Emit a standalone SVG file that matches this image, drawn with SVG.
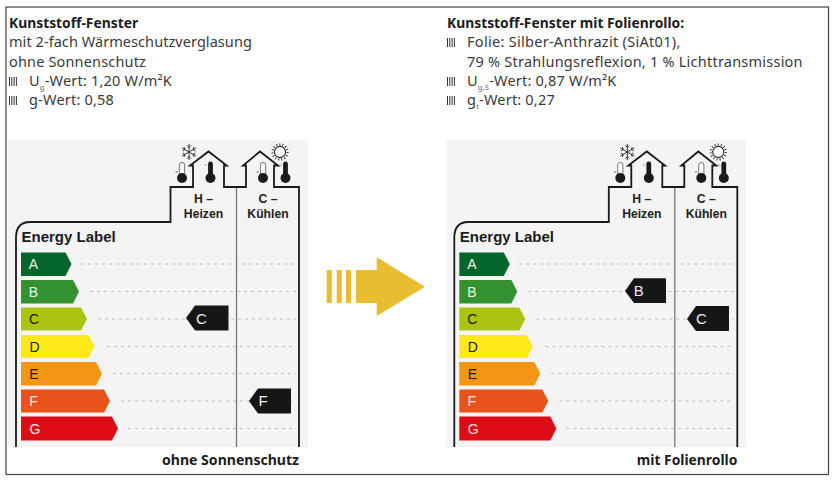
<svg xmlns="http://www.w3.org/2000/svg" width="834" height="482" viewBox="0 0 834 482">
<style>
.t{font-family:"Noto Sans","Open Sans",sans-serif;font-size:14.5px;fill:#3a3a3a;letter-spacing:.2px}
.h{font-family:"Noto Sans","Open Sans",sans-serif;font-size:13.85px;font-weight:700;fill:#1c1c1c}
.sub{font-size:7.5px;fill:#666}
.a{font-family:"Liberation Sans",Arial,sans-serif}
.el{font-size:15px;font-weight:700;fill:#1a1a1a}
.hd{font-size:12.2px;font-weight:700;fill:#222;text-anchor:middle}
.l{font-size:14px;text-anchor:middle}
.m{font-size:15px;text-anchor:middle;fill:#eee}
.w{fill:#f4f4f4}.k{fill:#161616}
.out{fill:none;stroke:#1a1a1a;stroke-width:1.8}
.div{fill:none;stroke:#777;stroke-width:1.3}
.dot{fill:none;stroke:#bdbdbd;stroke-width:1;stroke-dasharray:3 4}
.bul{fill:none;stroke:#333;stroke-width:1}
</style>
<defs>
<g id="bul"><path class="bul" d="M.5 0V9M2.8 0V9M5.1 0V9M7.4 0V9"/></g>
<g id="thS"><path d="M-2.4 -14a2.4 2.4 0 0 1 4.8 0V0H-2.4Z" fill="#1a1a1a"/><circle r="5" fill="#1a1a1a"/><path d="M-6 -13h2.5" stroke="#777" stroke-width=".7"/></g>
<g id="thH"><path d="M-2.6 -13a2.6 2.6 0 0 1 5.2 0V0H-2.6Z" fill="#fff" stroke="#666" stroke-width=".9"/><circle r="5" fill="#1a1a1a"/><path d="M-6.5 -6h2.5" stroke="#555" stroke-width=".8"/></g>
<g id="snow" fill="none" stroke="#333" stroke-width="1"><path d="M0 -8V8M-7 -4L7 4M-7 4L7 -4M-2 -6.5L0 -4.5L2 -6.5M-2 6.5L0 4.5L2 6.5M-6.5 -1L-4 -2.5L-5 -5M6.5 1L4 2.5L5 5M-6.5 1L-4 2.5L-5 5M6.5 -1L4 -2.5L5 -5"/></g>
<g id="sun" fill="none" stroke="#222"><circle r="5.6" fill="#fff" stroke-width="1.1"/><circle r="7.6" stroke-width="2" stroke-dasharray="1 2.18"/></g>
</defs>

<rect id="frame" x="6" y="7" width="822.5" height="467.5" fill="#fff" stroke="#444" stroke-width="1.2"/>

<g id="text-left">
<text class="h" x="9" y="27.5">Kunststoff-Fenster</text>
<text class="t" x="9" y="47" style="letter-spacing:.06px">mit 2-fach Wärmeschutzverglasung</text>
<text class="t" x="9" y="66.5" style="letter-spacing:.16px">ohne Sonnenschutz</text>
<use href="#bul" x="9" y="77"/>
<text class="t" x="29" y="86">U<tspan class="sub" dy="3.5">g</tspan><tspan dy="-3.5">-Wert: 1,20 W/m²K</tspan></text>
<use href="#bul" x="9" y="96"/>
<text class="t" x="29" y="105">g-Wert: 0,58</text>
</g>

<g id="text-right">
<text class="h" x="447" y="27.5">Kunststoff-Fenster mit Folienrollo:</text>
<use href="#bul" x="447" y="38"/>
<text class="t" x="467" y="47" style="letter-spacing:.29px">Folie: Silber-Anthrazit (SiAt01),</text>
<text class="t" x="467" y="66.5" style="letter-spacing:.23px">79 % Strahlungsreflexion, 1 % Lichttransmission</text>
<use href="#bul" x="447" y="77"/>
<text class="t" x="467" y="86">U<tspan class="sub" dy="3.5">g,S</tspan><tspan dy="-3.5">-Wert: 0,87 W/m²K</tspan></text>
<use href="#bul" x="447" y="96"/>
<text class="t" x="467" y="105">g<tspan class="sub" dy="3.5">t</tspan><tspan dy="-3.5">-Wert: 0,27</tspan></text>
</g>

<g id="chart-left">
<rect class="w" x="8" y="140" width="300" height="307"/>
<path class="dot" d="M81 264H296M90 291.5H296M98 319H296M107 346.5H296M113 373.5H296M121 401H296M128 428.5H296"/>
<use href="#snow" x="189" y="152"/><use href="#sun" x="280" y="152"/>
<use href="#thH" x="182" y="178"/><use href="#thS" x="210.5" y="178"/><use href="#thH" x="263" y="178"/><use href="#thS" x="285.5" y="178"/>
<path class="div" d="M236.5 187V447"/>
<path class="out" d="M16 447V238Q16 222 30 222H170.5V187H193V165.5H190L208.5 151.5L226.7 165.5H224V187H246V165.5H243L260 151.5L278 165.5H274V187H299V447"/>
<text class="a el" x="21.5" y="242">Energy Label</text>
<text class="a hd" x="203.5" y="203">H –</text><text class="a hd" x="203.5" y="217.5">Heizen</text>
<text class="a hd" x="268" y="203">C –</text><text class="a hd" x="268" y="217.5">Kühlen</text>
<path fill="#05662b" d="M21 252.5H65.5L71.5 264L65.5 276H21Z"/><text class="a l" x="33.5" y="269" fill="#e8f2e8">A</text>
<path fill="#33922f" d="M21 280H73L79 291.5L73 303.5H21Z"/><text class="a l" x="33.5" y="296.5" fill="#e8f2e8">B</text>
<path fill="#aac40f" d="M21 307.5H81L87 319L81 330.5H21Z"/><text class="a l" x="34" y="324" fill="#1a1a1a">C</text>
<path fill="#fde91a" d="M21 335H88.5L94.5 346.5L88.5 358H21Z"/><text class="a l" x="34.5" y="351.5" fill="#1a1a1a">D</text>
<path fill="#f39613" d="M21 362H96L102 373.5L96 385.5H21Z"/><text class="a l" x="34" y="378.5" fill="#1a1a1a">E</text>
<path fill="#e8531b" d="M21 389.5H104L110 401L104 412.5H21Z"/><text class="a l" x="33.5" y="405.5" fill="#f5e8e0">F</text>
<path fill="#dc0d17" d="M21 416.5H112L118 428.5L112 440.5H21Z"/><text class="a l" x="35" y="433.5" fill="#f5e0e0">G</text>
<path class="k" d="M186 318L195 305.5H228.5V330.5H195Z"/><text class="a m" x="201.5" y="323.5">C</text>
<path class="k" d="M249 401L258 388.5H291V413.5H258Z"/><text class="a m" x="263" y="405.5">F</text>
<text class="h" x="299" y="465" text-anchor="end" style="font-size:14.05px">ohne Sonnenschutz</text>
</g>

<g id="arrow" fill="#e8bd2f">
<rect x="326.7" y="270" width="5" height="33"/><rect x="336.7" y="270" width="5" height="33"/><rect x="346" y="270" width="5" height="33"/>
<path d="M356 270H376.7V257.3L425 286.7L376.7 316V303H356Z"/>
</g>

<g id="chart-right" transform="translate(438.3 0)">
<rect class="w" x="8" y="140" width="300" height="307"/>
<path class="dot" d="M81 264H296M90 291.5H296M98 319H296M107 346.5H296M113 373.5H296M121 401H296M128 428.5H296"/>
<use href="#snow" x="189" y="152"/><use href="#sun" x="280" y="152"/>
<use href="#thH" x="182" y="178"/><use href="#thS" x="210.5" y="178"/><use href="#thH" x="263" y="178"/><use href="#thS" x="285.5" y="178"/>
<path class="div" d="M236.5 187V447"/>
<path class="out" d="M16 447V238Q16 222 30 222H170.5V187H193V165.5H190L208.5 151.5L226.7 165.5H224V187H246V165.5H243L260 151.5L278 165.5H274V187H299V447"/>
<text class="a el" x="21.5" y="242">Energy Label</text>
<text class="a hd" x="203.5" y="203">H –</text><text class="a hd" x="203.5" y="217.5">Heizen</text>
<text class="a hd" x="268" y="203">C –</text><text class="a hd" x="268" y="217.5">Kühlen</text>
<path fill="#05662b" d="M21 252.5H65.5L71.5 264L65.5 276H21Z"/><text class="a l" x="33.5" y="269" fill="#e8f2e8">A</text>
<path fill="#33922f" d="M21 280H73L79 291.5L73 303.5H21Z"/><text class="a l" x="33.5" y="296.5" fill="#e8f2e8">B</text>
<path fill="#aac40f" d="M21 307.5H81L87 319L81 330.5H21Z"/><text class="a l" x="34" y="324" fill="#1a1a1a">C</text>
<path fill="#fde91a" d="M21 335H88.5L94.5 346.5L88.5 358H21Z"/><text class="a l" x="34.5" y="351.5" fill="#1a1a1a">D</text>
<path fill="#f39613" d="M21 362H96L102 373.5L96 385.5H21Z"/><text class="a l" x="34" y="378.5" fill="#1a1a1a">E</text>
<path fill="#e8531b" d="M21 389.5H104L110 401L104 412.5H21Z"/><text class="a l" x="33.5" y="405.5" fill="#f5e8e0">F</text>
<path fill="#dc0d17" d="M21 416.5H112L118 428.5L112 440.5H21Z"/><text class="a l" x="35" y="433.5" fill="#f5e0e0">G</text>
<path class="k" d="M186.7 291L195.7 278.3H227.7V303H195.7Z"/><text class="a m" x="200.5" y="296">B</text>
<path class="k" d="M248.7 319L257.7 306H290.7V331H257.7Z"/><text class="a m" x="263" y="323.5">C</text>
<text class="h" x="299" y="465" text-anchor="end">mit Folienrollo</text>
</g>
</svg>
